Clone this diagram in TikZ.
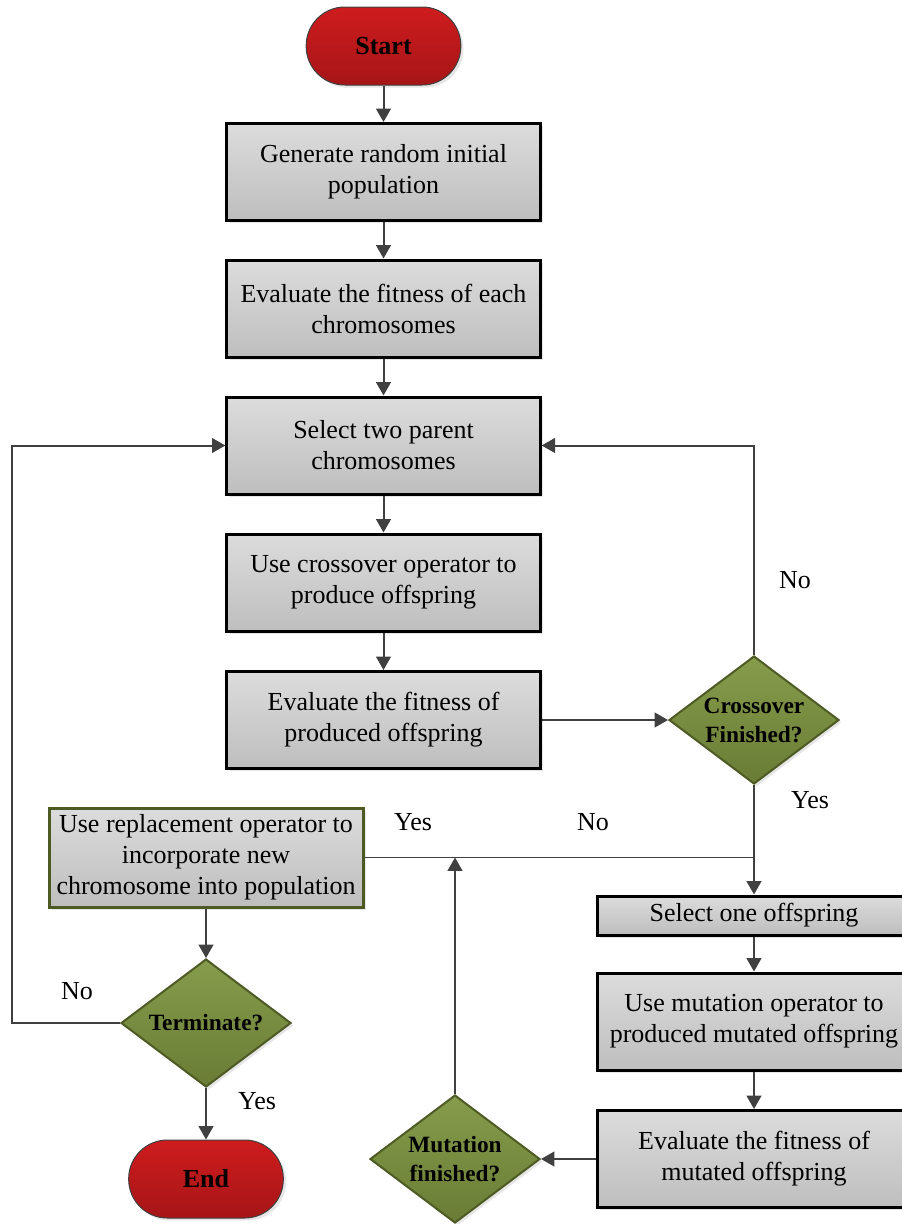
\documentclass[tikz,border=0pt]{standalone}
\usepackage{fontspec}
\setmainfont{Liberation Serif}
\usetikzlibrary{arrows.meta}
\usetikzlibrary{shapes.geometric}
\usetikzlibrary{shadows}

\definecolor{boxtop}{HTML}{DCDCDC}
\definecolor{boxbot}{HTML}{BEBEBE}
\definecolor{redtop}{HTML}{CE1C1E}
\definecolor{redbot}{HTML}{A61517}
\definecolor{greentop}{HTML}{869C4C}
\definecolor{greenbot}{HTML}{6A7C35}
\definecolor{olive}{HTML}{4E5A24}
\definecolor{wire}{HTML}{404040}

\tikzset{
  txt/.style={font=\fontsize{19.5}{23.25}\selectfont, align=center, inner sep=0pt},
  boldtxt/.style={font=\fontsize{17.5}{21.75}\selectfont\bfseries, align=center, inner sep=0pt},
  shade/.style={drop shadow={shadow xshift=2pt, shadow yshift=-2pt, opacity=.2, fill=gray}},
  procbox/.style={txt, shade, draw=black, line width=2.25pt, top color=boxtop, bottom color=boxbot,
    minimum width=235pt, minimum height=72.75pt},
  replbox/.style={procbox, draw=olive, minimum width=235.5pt, minimum height=74.25pt},
  thinbox/.style={procbox, minimum height=29.25pt},
  termnode/.style={boldtxt, font=\fontsize{19.5}{23.25}\selectfont\bfseries, shade, draw=wire,
    line width=.75pt, top color=redtop, bottom color=redbot,
    rounded corners=29pt, minimum width=116pt, minimum height=58.5pt},
  decision/.style={boldtxt, shade, diamond, aspect=1.33, draw=olive, line width=1.5pt,
    top color=greentop, bottom color=greenbot, minimum width=127.5pt, minimum height=96pt},
  flowarrow/.style={draw=wire, line width=1.5pt, -{Triangle[width=11pt,length=10pt]}},
  hairline/.style={draw=wire, line width=.75pt},
  lbl/.style={txt}
}

\begin{document}
\begin{tikzpicture}[x=0.75pt, y=-0.75pt]
  \path[use as bounding box, clip] (0,0) rectangle (902,1224);

  % main column
  \node[termnode] (start) at (383.5,46) {Start};
  \node[procbox] (init) at (383.5,172) {Generate random initial\\population};
  \node[procbox] (fit) at (383.5,308.5) {Evaluate the fitness of each\\chromosomes};
  \node[procbox] (parents) at (383.5,445.5) {Select two parent\\chromosomes};
  \node[procbox] (cross) at (383.5,582.5) {Use crossover operator to\\produce offspring};
  \node[procbox] (fitoff) at (383.5,720) {Evaluate the fitness of\\produced offspring};
  \node[decision] (crossdone) at (754,720) {Crossover\\Finished?};

  % mutation branch
  \node[thinbox] (pickone) at (754,915.5) {Select one offspring};
  \node[procbox] (mutate) at (754,1021.5) {Use mutation operator to\\produced mutated offspring};
  \node[procbox] (fitmut) at (754,1159) {Evaluate the fitness of\\mutated offspring};
  \node[decision] (mutdone) at (455,1159) {Mutation\\finished?};

  % replacement and end
  \node[replbox] (replace) at (206,857.5) {Use replacement operator to\\incorporate new\\chromosome into population};
  \node[decision] (stop) at (206,1023) {Terminate?};
  \node[termnode] (end) at (206,1179) {End};
  \coordinate (back) at (12,1023);

  % labels
  \node[lbl] (nocross) at (795,580) {No};
  \node[lbl] (yescross) at (810,800) {Yes};
  \node[lbl] (yesmut) at (413,822) {Yes};
  \node[lbl] (nomut) at (593,822) {No};
  \node[lbl] (nostop) at (77,991) {No};
  \node[lbl] (yesstop) at (257,1101) {Yes};

  % connectors
  \draw[flowarrow] (start) -- (init);
  \draw[flowarrow] (init) -- (fit);
  \draw[flowarrow] (fit) -- (parents);
  \draw[flowarrow] (parents) -- (cross);
  \draw[flowarrow] (cross) -- (fitoff);
  \draw[flowarrow] (fitoff) -- (crossdone);
  \draw[flowarrow] (crossdone.north) |- (parents.east);
  \draw[flowarrow] (crossdone) -- (pickone);
  \draw[hairline] (replace.east) -- (replace.east -| crossdone.south);
  \draw[flowarrow] (pickone) -- (mutate);
  \draw[flowarrow] (mutate) -- (fitmut);
  \draw[flowarrow] (fitmut) -- (mutdone);
  \draw[flowarrow] (mutdone.north) -- (mutdone.north |- replace.east);
  \draw[flowarrow] (replace) -- (stop);
  \draw[flowarrow] (stop.west) -- (back) |- (parents.west);
  \draw[flowarrow] (stop) -- (end);
\end{tikzpicture}
\end{document}
